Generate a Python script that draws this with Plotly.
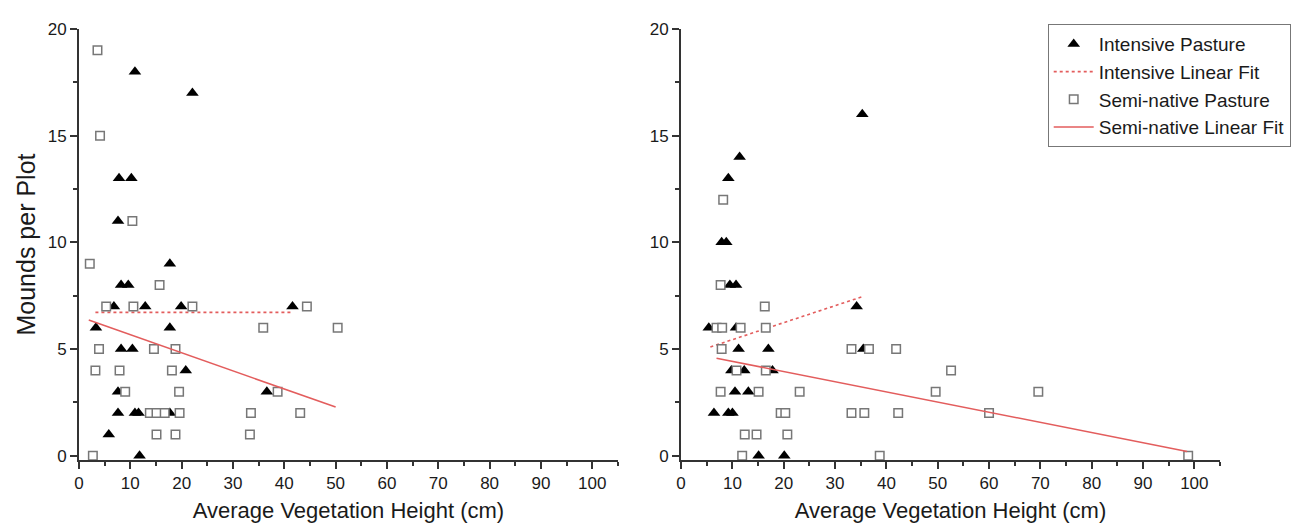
import plotly.graph_objects as go

# ---- data ----
left_int_x = [10.9, 22.1, 7.8, 10.2, 7.6, 17.7, 8.2, 9.6, 6.8, 12.9, 19.9, 41.6, 3.3, 17.7,
              8.2, 10.4, 20.8, 7.6, 36.6, 7.6, 10.9, 11.6, 17.7, 5.8, 11.8]
left_int_y = [18, 17, 13, 13, 11, 9, 8, 8, 7, 7, 7, 7, 6, 6, 5, 5, 4, 3, 3, 2, 2, 2, 2, 1, 0]

left_semi_x = [3.6, 4.1, 10.4, 2.1, 15.7, 5.3, 10.6, 22.1, 44.4, 35.9, 50.4, 3.9, 14.6, 18.8,
               3.2, 7.9, 18.1, 9.0, 19.5, 38.7, 13.8, 15.1, 16.7, 19.6, 33.5, 43.1, 15.1, 18.8,
               33.3, 2.7]
left_semi_y = [19, 15, 11, 9, 8, 7, 7, 7, 7, 6, 6, 5, 5, 5, 4, 4, 4, 3, 3, 3, 2, 2, 2, 2, 2, 2,
               1, 1, 1, 0]

left_int_fit_x = [3.2, 41.5]
left_int_fit_y = [6.72, 6.72]
left_semi_fit_x = [1.9, 50.0]
left_semi_fit_y = [6.36, 2.28]

right_int_x = [35.3, 11.4, 9.2, 7.9, 8.8, 9.5, 10.7, 34.2, 5.4, 10.7, 11.2, 17.0, 35.5, 9.8,
               12.3, 17.8, 10.5, 13.1, 6.4, 9.2, 10.0, 15.1, 20.1]
right_int_y = [16, 14, 13, 10, 10, 8, 8, 7, 6, 6, 5, 5, 5, 4, 4, 4, 3, 3, 2, 2, 2, 0, 0]

right_semi_x = [8.2, 7.7, 16.3, 6.9, 8.0, 11.6, 16.5, 7.9, 33.2, 36.6, 41.9, 10.8, 16.5, 52.6,
                7.7, 15.1, 23.1, 49.6, 69.6, 19.4, 20.3, 33.2, 35.7, 42.3, 60.0, 12.4, 14.7,
                20.7, 11.9, 38.7, 98.8]
right_semi_y = [12, 8, 7, 6, 6, 6, 6, 5, 5, 5, 5, 4, 4, 4, 3, 3, 3, 3, 3, 2, 2, 2, 2, 2, 2,
                1, 1, 1, 0, 0, 0]

right_int_fit_x = [5.7, 35.5]
right_int_fit_y = [5.1, 7.47]
right_semi_fit_x = [6.9, 98.6]
right_semi_fit_y = [4.57, 0.2]

x_title = "Average Vegetation Height (cm)"
y_title = "Mounds per Plot"
names = ["Intensive Pasture", "Intensive Linear Fit", "Semi-native Pasture", "Semi-native Linear Fit"]

FONT = "Liberation Sans, Arial, sans-serif"
RED = "#e35d5d"
AX = "#333333"
TXT = "#1a1a1a"

fig = go.Figure()


def add_panel(xi, yi, fxi, fyi, xs, ys, fxs, fys, xa, ya, show):
    fig.add_trace(go.Scatter(x=xi, y=yi, mode="markers", name=names[0], showlegend=show,
                             marker=dict(symbol="triangle-up", size=11, color="black"),
                             xaxis=xa, yaxis=ya))
    fig.add_trace(go.Scatter(x=fxi, y=fyi, mode="lines", name=names[1], showlegend=show,
                             line=dict(color=RED, width=1.6, dash="dot"),
                             xaxis=xa, yaxis=ya))
    fig.add_trace(go.Scatter(x=xs, y=ys, mode="markers", name=names[2], showlegend=show,
                             marker=dict(symbol="square", size=8.5, color="white",
                                         line=dict(color="#777777", width=1.5)),
                             xaxis=xa, yaxis=ya))
    fig.add_trace(go.Scatter(x=fxs, y=fys, mode="lines", name=names[3], showlegend=show,
                             line=dict(color=RED, width=1.6),
                             xaxis=xa, yaxis=ya))


add_panel(left_int_x, left_int_y, left_int_fit_x, left_int_fit_y,
          left_semi_x, left_semi_y, left_semi_fit_x, left_semi_fit_y, "x", "y", False)
add_panel(right_int_x, right_int_y, right_int_fit_x, right_int_fit_y,
          right_semi_x, right_semi_y, right_semi_fit_x, right_semi_fit_y, "x2", "y2", True)

xcommon = dict(range=[0, 105], tick0=0, dtick=10, showgrid=False, zeroline=False,
               showline=True, linecolor=AX, linewidth=2, ticks="outside", ticklen=7,
               tickwidth=1.5, tickcolor=AX,
               minor=dict(ticks="outside", ticklen=4, tickwidth=1.5, tickcolor=AX, dtick=5, tick0=0),
               tickfont=dict(family=FONT, size=17, color=TXT),
               title=dict(text=x_title, font=dict(family=FONT, size=22, color=TXT), standoff=10))
ycommon = dict(range=[-0.2, 20], tick0=0, dtick=5, showgrid=False, zeroline=False,
               showline=True, linecolor=AX, linewidth=2, ticks="outside", ticklen=7,
               tickwidth=1.5, tickcolor=AX,
               minor=dict(ticks="outside", ticklen=4, tickwidth=1.5, tickcolor=AX, dtick=2.5, tick0=0),
               tickfont=dict(family=FONT, size=17, color=TXT))

fig.update_layout(
    width=1301, height=523,
    margin=dict(l=71, r=89, t=20, b=69),
    paper_bgcolor="white", plot_bgcolor="white",
    font=dict(family=FONT, color=TXT),
    xaxis=dict(domain=[0, 0.4723], anchor="y", **xcommon),
    xaxis2=dict(domain=[0.5277, 1], anchor="y2", **xcommon),
    yaxis=dict(anchor="x", title=dict(text=y_title, font=dict(family=FONT, size=25, color=TXT),
                                      standoff=5), **ycommon),
    yaxis2=dict(anchor="x2", **ycommon),
    legend=dict(x=0.849, y=1.0115, xanchor="left", yanchor="top",
                bgcolor="white", bordercolor="#777777", borderwidth=1,
                font=dict(family=FONT, size=19, color=TXT), itemwidth=40,
                tracegroupgap=0),
    showlegend=True,
)

fig.write_html("out.html")
